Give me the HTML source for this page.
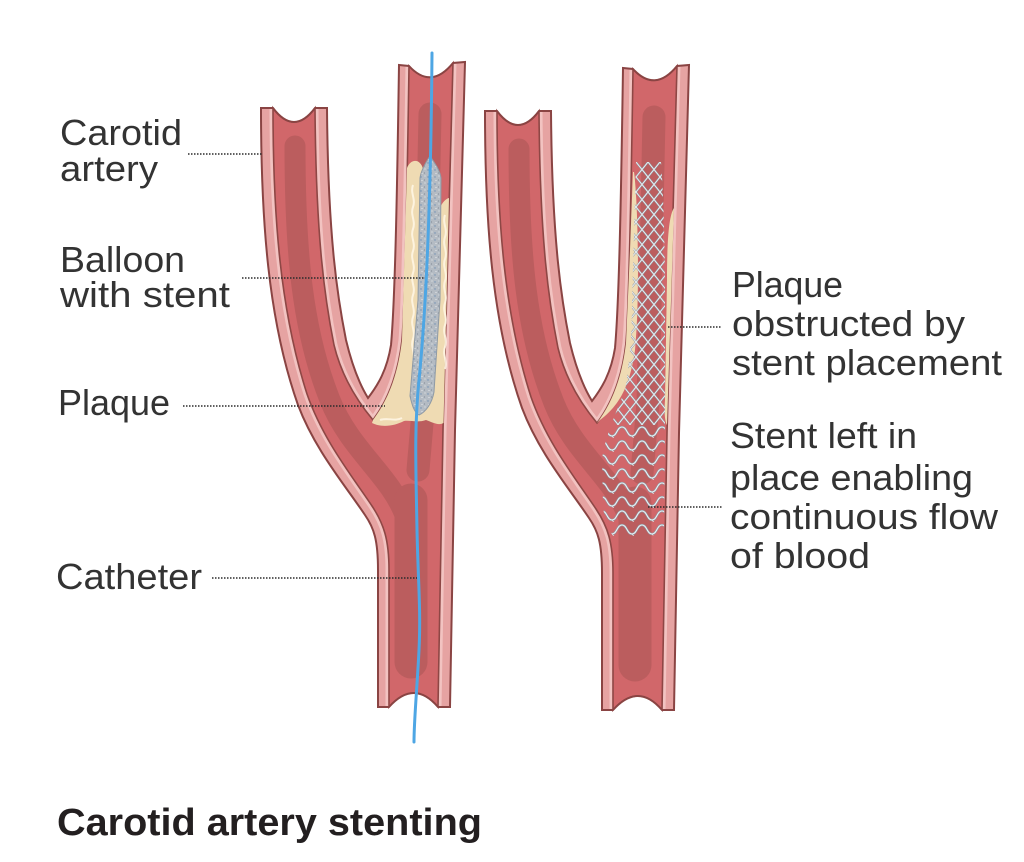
<!DOCTYPE html>
<html><head><meta charset="utf-8"><style>
html,body{margin:0;padding:0;background:#fff;width:1024px;height:862px;overflow:hidden}
svg{display:block}
text{font-family:"Liberation Sans",sans-serif;fill:#333}
</style></head><body>
<svg width="1024" height="862" viewBox="0 0 1024 862" xmlns="http://www.w3.org/2000/svg">
<defs>
<path id="outer" d="M261,108 C261,220 268,320 298,405 C315,450 345,485 365,515 C374,528 378,540 378,570 L378,707 L389,707 Q414,679 438,707 L450,707 L455,430 L465,62 L453,63 Q431,90 409,66 L399,65 C397,200 395,300 391,345 C387,370 378,385 368,398 C360,385 352,365 346,340 C338,300 328,240 327,108 L315,108 Q294,136 273,108 Z"/>
<path id="lumen" d="M273,108 C273,215 280,310 307,394 C323,440 352,476 372,506 C384,524 389,540 389,570 L389,707 Q414,679 438,707 L443,430 L453,63 Q431,90 409,66 C407,200 405,300 402,340 C398,375 388,400 373,420 C358,402 342,378 334,345 C325,300 316,240 315,108 Q294,136 273,108 Z"/>
<clipPath id="co"><use href="#outer"/></clipPath>
<clipPath id="cl"><use href="#lumen"/></clipPath>
<g id="vessel">
  <use href="#outer" fill="#e6a3a2"/>
  <g clip-path="url(#co)"><use href="#lumen" fill="none" stroke="#f2c3c1" stroke-width="7"/></g>
  <use href="#lumen" fill="#d1676a"/>
  <g clip-path="url(#cl)" fill="none" stroke="#bb5d5e" stroke-linecap="round">
    <path d="M295,146 C295,250 302,330 330,400 C350,450 390,475 405,515" stroke-width="21"/>
    <path d="M430,114 L424,400 L418,470" stroke-width="23"/>
    <path d="M411,500 L411,662" stroke-width="33"/>
  </g>
  <use href="#lumen" fill="none" stroke="#8e4745" stroke-width="1.6"/>
  <use href="#outer" fill="none" stroke="#8a4443" stroke-width="2"/>
</g>
<pattern id="spk" width="7" height="7" patternUnits="userSpaceOnUse">
  <rect width="7" height="7" fill="#b4bbc3"/>
  <circle cx="1" cy="2" r=".7" fill="#6f8fb3"/>
  <circle cx="4.5" cy="5" r=".6" fill="#858e98"/>
  <circle cx="5" cy="1" r=".6" fill="#e3e7ea"/>
  <circle cx="2" cy="5.5" r=".6" fill="#e5e9ec"/>
</pattern>
<pattern id="patA" x="636" y="162" width="12" height="15" patternUnits="userSpaceOnUse">
  <path d="M0,0 L6,7.5 L12,0 M0,15 L6,7.5 L12,15" stroke="#8d99a3" stroke-width="1.9" fill="none"/>
  <path d="M0,0 L6,7.5 L12,0 M0,15 L6,7.5 L12,15" stroke="#eef2f5" stroke-width="0.9" fill="none"/>
</pattern>
<pattern id="patB" x="602" y="424" width="20" height="14" patternUnits="userSpaceOnUse">
  <path d="M0,3 C5,3 5,12 10,12 C15,12 15,3 20,3" stroke="#8d99a3" stroke-width="2.2" fill="none"/>
  <path d="M0,3 C5,3 5,12 10,12 C15,12 15,3 20,3" stroke="#eef2f5" stroke-width="1.1" fill="none"/>
  <path d="M10,12 L14,17" stroke="#dfe6ea" stroke-width="0.8" fill="none"/>
</pattern>
<clipPath id="stentclip"><path d="M636,162 L661,162 C664,200 665,260 665,300 L665,420 L664,535 L614,537 C608,530 604,520 603,505 L602,460 C604,440 615,415 625,390 C630,360 632,330 632,300 L635,200 Z"/></clipPath>
</defs>

<!-- LEFT VESSEL -->
<use href="#vessel"/>
<path d="M407,168 C410,160 418,158 422,166 L438,212 C441,204 445,199 449,198 L443.5,423 C438,426 432,422 426,420 C418,423 410,420 404,421 C394,426 382,428 372,423 L373,420 C388,400 398,375 402,340 L407,168 Z" fill="#efdbb3"/>
<path d="M413,185 c-3,8 3,14 0,22 s3,14 0,22 s3,14 0,22 s3,14 0,22 s3,14 0,22 s3,14 0,22 s3,14 0,22 s3,14 0,22" stroke="#fff7e6" stroke-width="2" fill="none" opacity=".85"/>
<path d="M445,215 c-3,8 3,14 0,22 s3,14 0,22 s3,14 0,22 s3,14 0,22 s3,14 0,22 s3,14 0,22 s3,14 0,22" stroke="#fff7e6" stroke-width="2" fill="none" opacity=".85"/>
<path d="M380,420 c8,-3 14,2 22,-2" stroke="#fff7e6" stroke-width="2" fill="none" opacity=".85"/>
<path d="M430,156 C434,162 440,170 441,178 L440,300 L434,392 C432,403 426,412 419,415 C414,412 412,405 410,396 L418,300 L420,178 C421,170 426,162 430,156 Z" fill="url(#spk)" stroke="#8f9aa5" stroke-width="1"/>
<path d="M432,53 C431,180 427,300 419,380 C414,430 416,470 417,530 C418,580 421,610 419,650 C417,690 414,720 414,742" fill="none" stroke="#4ea6e4" stroke-width="3" stroke-linecap="round"/>

<!-- RIGHT VESSEL -->
<use href="#vessel" transform="translate(224,3)"/>
<path d="M634,172 C638,200 640,300 635,350 C630,385 620,405 600,420 L597,423 C612,403 622,378 626,343 L630,250 L633,172 Z" fill="#efdbb3"/>
<path d="M674,208 C669,215 667,240 667,280 L665,400 C664,414 665,421 667,425 L674,208 Z" fill="#efdbb3"/>
<g clip-path="url(#stentclip)">
  <rect x="595" y="150" width="80" height="275" fill="url(#patA)"/>
  <rect x="595" y="424" width="80" height="120" fill="url(#patB)"/>
</g>

<!-- LEADERS -->
<g stroke="#2b2b2b" stroke-width="1.5" stroke-dasharray="1.5 1.5" fill="none">
  <line x1="188" y1="154" x2="262" y2="154"/>
  <line x1="242" y1="278" x2="425" y2="278"/>
  <line x1="183" y1="406" x2="385" y2="406"/>
  <line x1="212" y1="578" x2="417" y2="578"/>
  <line x1="668" y1="327" x2="722" y2="327"/>
  <line x1="648" y1="507" x2="722" y2="507"/>
</g>

<!-- LABELS -->
<g font-size="36">
  <text x="60" y="145" textLength="122" lengthAdjust="spacingAndGlyphs">Carotid</text>
  <text x="60" y="181" textLength="98" lengthAdjust="spacingAndGlyphs">artery</text>
  <text x="60" y="272" textLength="125" lengthAdjust="spacingAndGlyphs">Balloon</text>
  <text x="60" y="307" textLength="170" lengthAdjust="spacingAndGlyphs">with stent</text>
  <text x="58" y="415" textLength="112" lengthAdjust="spacingAndGlyphs">Plaque</text>
  <text x="56" y="589" textLength="146" lengthAdjust="spacingAndGlyphs">Catheter</text>
  <text x="732" y="297" textLength="111" lengthAdjust="spacingAndGlyphs">Plaque</text>
  <text x="732" y="336" textLength="233" lengthAdjust="spacingAndGlyphs">obstructed by</text>
  <text x="732" y="375" textLength="270" lengthAdjust="spacingAndGlyphs">stent placement</text>
  <text x="730" y="448" textLength="187" lengthAdjust="spacingAndGlyphs">Stent left in</text>
  <text x="730" y="490" textLength="243" lengthAdjust="spacingAndGlyphs">place enabling</text>
  <text x="730" y="529" textLength="268" lengthAdjust="spacingAndGlyphs">continuous flow</text>
  <text x="730" y="568" textLength="140" lengthAdjust="spacingAndGlyphs">of blood</text>
</g>
<text x="57" y="835" font-size="38" font-weight="bold" style="fill:#231f20" textLength="425" lengthAdjust="spacingAndGlyphs">Carotid artery stenting</text>
</svg>
</body></html>
